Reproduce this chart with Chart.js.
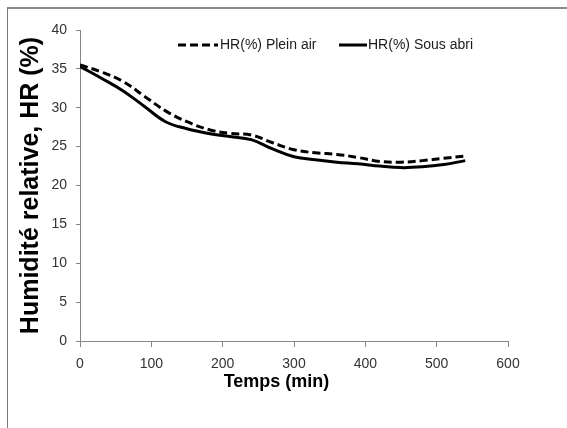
<!DOCTYPE html>
<html>
<head>
<meta charset="utf-8">
<script src="https://cdn.jsdelivr.net/npm/chart.js@4.4.1/dist/chart.umd.min.js"></script>
<style>
  html, body { margin: 0; padding: 0; background: #fff; overflow: hidden; }
  #wrap { position: relative; width: 567px; height: 428px; }
  #frame { position: absolute; left: 7px; top: 7px; width: 620px; height: 520px;
           border-left: 1px solid #7a7a7a; border-top: 2px solid #8a8a8a; pointer-events: none; }
  canvas { position: absolute; left: 0; top: 0; }
</style>
</head>
<body>
<div id="wrap">
  <canvas id="c" width="567" height="428"></canvas>
  <div id="frame"></div>
</div>
<script>
// ---- data ----
const timeMin = [0, 30, 60, 90, 120, 150, 180, 210, 240, 270, 300, 330, 360, 390, 420, 450, 480, 510, 540];
const hrPleinAir = [35.5, 34.6, 33.4, 31.5, 29.6, 28.2, 27.2, 26.7, 26.5, 25.5, 24.6, 24.2, 24.0, 23.6, 23.1, 23.0, 23.2, 23.5, 23.8];
const hrSousAbri = [35.3, 33.8, 32.2, 30.2, 28.2, 27.3, 26.7, 26.3, 25.9, 24.7, 23.7, 23.3, 23.0, 22.8, 22.5, 22.3, 22.4, 22.7, 23.2];
const seriesNames = ['HR(%) Plein air', 'HR(%) Sous abri'];
const xTickValues = [0, 100, 200, 300, 400, 500, 600];
const yTickValues = [0, 5, 10, 15, 20, 25, 30, 35, 40];
const xTitle = 'Temps (min)';
const yTitle = 'Humidité relative, HR (%)';

const sans = '"Liberation Sans", Arial, sans-serif';

const toPts = (ys) => timeMin.map((t, i) => ({ x: t, y: ys[i] }));

// legend drawn inside the plot, like the reference
const insideLegend = {
  id: 'insideLegend',
  afterDraw(chart) {
    const ctx = chart.ctx;
    const y = 45;
    const items = [
      { ds: 0, x0: 178, x1: 218, tx: 220 },
      { ds: 1, x0: 339, x1: 367, tx: 368 }
    ];
    ctx.save();
    items.forEach(it => {
      const ds = chart.data.datasets[it.ds];
      ctx.beginPath();
      ctx.setLineDash(ds.borderDash || []);
      ctx.lineWidth = ds.borderWidth;
      ctx.strokeStyle = ds.borderColor;
      ctx.moveTo(it.x0, y);
      ctx.lineTo(it.x1, y);
      ctx.stroke();
      ctx.setLineDash([]);
      ctx.fillStyle = '#1a1a1a';
      ctx.font = '14px ' + sans;
      ctx.textBaseline = 'middle';
      ctx.textAlign = 'left';
      ctx.fillText(ds.label, it.tx, y);
    });
    ctx.restore();
  }
};

new Chart(document.getElementById('c'), {
  type: 'line',
  data: {
    datasets: [
      {
        label: seriesNames[0],
        data: toPts(hrPleinAir),
        borderColor: '#000',
        borderWidth: 3,
        borderDash: [8, 4],
        pointRadius: 0,
        tension: 0.4,
        fill: false
      },
      {
        label: seriesNames[1],
        data: toPts(hrSousAbri),
        borderColor: '#000',
        borderWidth: 3,
        pointRadius: 0,
        tension: 0.4,
        fill: false
      }
    ]
  },
  options: {
    responsive: false,
    animation: false,
    devicePixelRatio: 1,
    layout: { padding: { left: 8, top: 30, right: 59, bottom: 0 } },
    plugins: { legend: { display: false }, tooltip: { enabled: false } },
    scales: {
      x: {
        type: 'linear',
        min: 0, max: 600,
        afterBuildTicks: (s) => { s.ticks = xTickValues.map(v => ({ value: v })); },
        afterFit: (s) => { s.height = 87; },
        border: { color: '#868686', width: 1 },
        grid: { drawOnChartArea: false, drawTicks: true, tickLength: 6, color: '#868686' },
        ticks: { color: '#333', font: { family: sans, size: 14 }, padding: 9, maxRotation: 0 },
        title: {
          display: true, text: xTitle + '\u00a0\u00a0\u00a0\u00a0\u00a0\u00a0\u00a0', color: '#000',
          font: { family: sans, size: 18, weight: 'bold' },
          padding: { top: 0, bottom: 35 }
        }
      },
      y: {
        min: 0, max: 40,
        afterBuildTicks: (s) => { s.ticks = yTickValues.map(v => ({ value: v })); },
        afterFit: (s) => { s.width = 72; },
        border: { color: '#868686', width: 1 },
        grid: { drawOnChartArea: false, drawTicks: true, tickLength: 4, color: '#868686' },
        ticks: { color: '#333', font: { family: sans, size: 14 }, padding: 9 },
        title: {
          display: true, text: yTitle, color: '#000',
          font: { family: sans, size: 25, weight: 'bold' },
          padding: { top: 8, bottom: 0 }
        }
      }
    }
  },
  plugins: [insideLegend]
});
</script>
</body>
</html>
